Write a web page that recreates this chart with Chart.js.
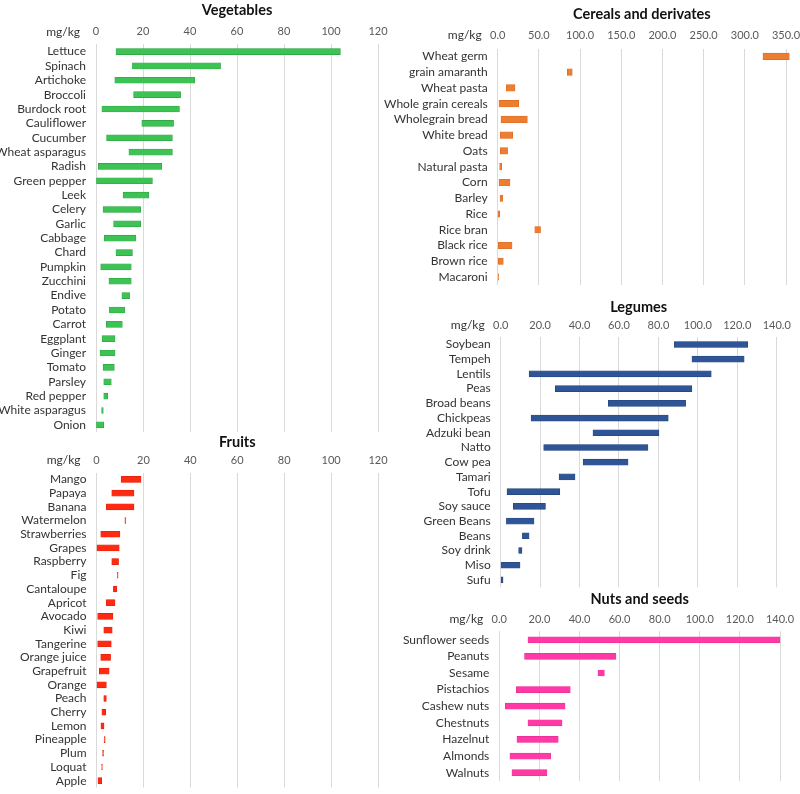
<!DOCTYPE html>
<html>
<head>
<meta charset="utf-8">
<script src="https://cdn.jsdelivr.net/npm/chart.js@4.4.1/dist/chart.umd.min.js"></script>
<style>
    body { margin: 0; background: #fff; }
    #wrap { position: relative; width: 800px; height: 794px; overflow: hidden; }
    #wrap div { position: absolute; }
</style>
</head>
<body>
<div id="wrap">
    <div id="boxVeg" style="left:0;top:0;width:400px;height:436px"><canvas id="vegChart"></canvas></div>
    <div id="boxFruit" style="left:0;top:432px;width:400px;height:362px"><canvas id="fruitChart"></canvas></div>
    <div id="boxCereal" style="left:380px;top:0;width:420px;height:290px"><canvas id="cerealChart"></canvas></div>
    <div id="boxLegume" style="left:400px;top:290px;width:400px;height:298px"><canvas id="legumeChart"></canvas></div>
    <div id="boxNut" style="left:400px;top:588px;width:400px;height:206px"><canvas id="nutChart"></canvas></div>
</div>
<script>
// Vegetables (mg/kg, min - max)
const vegNames = ['Lettuce', 'Spinach', 'Artichoke', 'Broccoli', 'Burdock root', 'Cauliflower', 'Cucumber',
    'Wheat asparagus', 'Radish', 'Green pepper', 'Leek', 'Celery', 'Garlic', 'Cabbage', 'Chard', 'Pumpkin',
    'Zucchini', 'Endive', 'Potato', 'Carrot', 'Eggplant', 'Ginger', 'Tomato', 'Parsley', 'Red pepper',
    'White asparagus', 'Onion'];
const vegMin = [8.5, 15.5, 8, 16, 2.5, 19.5, 4.5, 14, 1, 0, 11.5, 3, 7.5, 3.5, 8.5, 2, 5.5, 11, 5.7, 4.4, 2.6, 1.7, 3, 3.3, 3.3, 2.4, 0];
const vegMax = [104, 53, 42, 36, 35.5, 33, 32.5, 32.5, 28, 24, 22.5, 19, 19, 17, 15.5, 15, 15, 14.3, 12.3, 11.2, 8.1, 8.1, 7.8, 6.5, 5, 3.1, 3.3];

// Fruits
const fruitNames = ['Mango', 'Papaya', 'Banana', 'Watermelon', 'Strawberries', 'Grapes', 'Raspberry', 'Fig',
    'Cantaloupe', 'Apricot', 'Avocado', 'Kiwi', 'Tangerine', 'Orange juice', 'Grapefruit', 'Orange', 'Peach',
    'Cherry', 'Lemon', 'Pineapple', 'Plum', 'Loquat', 'Apple'];
const fruitMin = [10.5, 6.5, 4.2, 12.1, 1.8, 0.2, 6.5, 8.9, 7.2, 4.2, 0.5, 3.1, 0.5, 1.8, 1.2, 0.2, 3.1, 2.3, 1.9, 3.3, 2.6, 2.2, 0.6];
const fruitMax = [19, 16, 16, 12.5, 10, 9.7, 9.4, 9.2, 8.7, 7.9, 7, 6.7, 6.3, 6, 5.4, 4.2, 4.2, 3.9, 3.2, 3.7, 3.0, 2.5, 2.2];

// Cereals and derivates
const cerealNames = ['Wheat germ', 'grain amaranth', 'Wheat pasta', 'Whole grain cereals', 'Wholegrain bread',
    'White bread', 'Oats', 'Natural pasta', 'Corn', 'Barley', 'Rice', 'Rice bran', 'Black rice', 'Brown rice', 'Macaroni'];
const cerealMin = [322, 84.5, 10.5, 1.6, 4, 3.2, 3.2, 2.4, 1.6, 2.8, 0.4, 45, 0.8, 0.8, 0];
const cerealMax = [354, 90.5, 21, 25.5, 36, 18.2, 12, 4.8, 15, 6, 2.5, 52, 17.4, 6.8, 1.5];

// Legumes
const legumeNames = ['Soybean', 'Tempeh', 'Lentils', 'Peas', 'Broad beans', 'Chickpeas', 'Adzuki bean', 'Natto',
    'Cow pea', 'Tamari', 'Tofu', 'Soy sauce', 'Green Beans', 'Beans', 'Soy drink', 'Miso', 'Sufu'];
const legumeMin = [88, 97, 14.4, 27.7, 54.6, 15.4, 46.8, 21.8, 41.8, 29.6, 3.2, 6.4, 2.9, 11, 9.1, 0.2, 0.2];
const legumeMax = [125.3, 123.5, 106.8, 97, 93.8, 85, 80.3, 74.7, 64.6, 37.7, 30, 22.7, 16.9, 14.4, 10.8, 9.8, 1.2];

// Nuts and seeds
const nutNames = ['Sunflower seeds', 'Peanuts', 'Sesame', 'Pistachios', 'Cashew nuts', 'Chestnuts', 'Hazelnut', 'Almonds', 'Walnuts'];
const nutMin = [14.3, 12.6, 49.2, 8.5, 3, 14.3, 8.8, 5.3, 6.3];
const nutMax = [140, 58.2, 52.4, 35.4, 32.8, 31.3, 29.4, 25.6, 23.8];

const FONT = 'Lato, "Open Sans", sans-serif';

// draws the unit label on the tick-label row, left of the plot
const unitLabel = {
    id: 'unitLabel',
    afterDraw(chart) {
        const { ctx, chartArea } = chart;
        const xs = chart.scales.x;
        const y = xs.bottom - chart.options.scales.x.ticks.padding - 6.6;
        ctx.save();
        ctx.font = '12px ' + FONT;
        ctx.fillStyle = '#333';
        ctx.textAlign = 'right';
        ctx.textBaseline = 'middle';
        ctx.fillText('mg/kg', chartArea.left - 16, y);
        ctx.restore();
    },
};

function makeChart(id, o) {
    const ctx = document.getElementById(id).getContext('2d');
    return new Chart(ctx, {
        type: 'bar',
        data: {
            labels: o.labels,
            datasets: [
                {
                    data: o.min.map((v, i) => [v, o.max[i]]),
                    backgroundColor: o.color,
                    borderColor: o.border,
                    borderWidth: 0.6,
                    borderSkipped: false,
                    barThickness: o.bar,
                    clip: false,
                },
            ],
        },
        options: {
            indexAxis: 'y',
            responsive: true,
            maintainAspectRatio: false,
            animation: false,
            layout: { padding: { left: 0, top: 0, right: o.padR, bottom: o.padB } },
            plugins: {
                legend: { display: false },
                tooltip: { enabled: false },
                title: {
                    display: true,
                    text: o.title,
                    fullSize: false,
                    color: '#111',
                    font: { family: FONT, size: 14.5, weight: 'bold' },
                    padding: { top: o.titleTop, bottom: 0 },
                },
            },
            scales: {
                x: {
                    position: 'top',
                    min: 0,
                    max: o.xMax,
                    afterFit: (s) => {
                        s.height = o.axisH;
                        s.paddingLeft = 0;
                        s.paddingRight = 0;
                    },
                    ticks: {
                        stepSize: o.step,
                        padding: o.tickPad,
                        color: '#595959',
                        font: { family: FONT, size: 11 },
                        callback: o.fmt,
                    },
                    grid: { color: '#d9d9d9', drawTicks: false },
                    border: { display: false },
                },
                y: {
                    afterFit: (s) => {
                        s.width = o.axisW;
                        s.paddingTop = 0;
                        s.paddingBottom = 0;
                    },
                    ticks: {
                        autoSkip: false,
                        padding: 10,
                        color: '#333',
                        font: { family: FONT, size: 12 },
                    },
                    grid: { display: false, drawTicks: false },
                    border: { display: false },
                },
            },
        },
        plugins: [unitLabel],
    });
}

const intFmt = (v) => String(v);
const decFmt = (v) => v.toFixed(1);

makeChart('vegChart', {
    labels: vegNames, min: vegMin, max: vegMax, title: 'Vegetables',
    color: '#3dc254', border: '#2ea043', bar: 6, xMax: 120, step: 20, fmt: intFmt,
    padR: 22, padB: 4, titleTop: 2, axisH: 25, tickPad: 6, axisW: 96,
});

makeChart('fruitChart', {
    labels: fruitNames, min: fruitMin, max: fruitMax, title: 'Fruits',
    color: '#ff2a12', border: '#e0200a', bar: 6, xMax: 120, step: 20, fmt: intFmt,
    padR: 22, padB: 6.5, titleTop: 2, axisH: 21.2, tickPad: 5.6, axisW: 96.5,
});

makeChart('cerealChart', {
    labels: cerealNames, min: cerealMin, max: cerealMax, title: 'Cereals and derivates',
    color: '#ed7d31', border: '#d86c22', bar: 6.5, xMax: 350, step: 50, fmt: decFmt,
    padR: 14, padB: 5.1, titleTop: 6, axisH: 25.1, tickPad: 6.5, axisW: 117.7,
});

makeChart('legumeChart', {
    labels: legumeNames, min: legumeMin, max: legumeMax, title: 'Legumes',
    color: '#2f5597', border: '#24447c', bar: 6, xMax: 140, step: 20, fmt: decFmt,
    padR: 23.3, padB: 0.7, titleTop: 8.7, axisH: 21, tickPad: 5.4, axisW: 100.7,
});

makeChart('nutChart', {
    labels: nutNames, min: nutMin, max: nutMax, title: 'Nuts and seeds',
    color: '#ff3aa6', border: '#e82c92', bar: 6, xMax: 140, step: 20, fmt: decFmt,
    padR: 20, padB: 13, titleTop: 3, axisH: 23, tickPad: 5.4, axisW: 99.3,
});
</script>
</body>
</html>
